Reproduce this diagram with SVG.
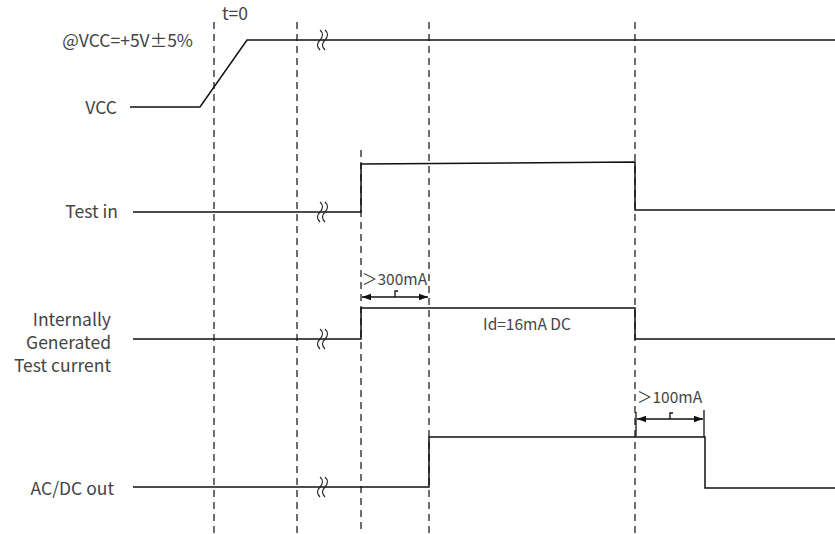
<svg xmlns="http://www.w3.org/2000/svg" width="835" height="534" viewBox="0 0 835 534">
<style>
.t{font-family:"Noto Sans CJK SC","Noto Sans",sans-serif;font-size:17.5px;fill:#444}
.m{font-size:15.5px}
.s{fill:none;stroke:#111;stroke-width:1.5}
.d{fill:none;stroke:#222;stroke-width:1.3;stroke-dasharray:7 5}
.b{fill:none;stroke:#222;stroke-width:1.1}
.a{fill:none;stroke:#111;stroke-width:1.3}
</style>
<defs>
<marker id="ah" viewBox="0 0 10 10" refX="10" refY="5" markerWidth="7" markerHeight="7" orient="auto-start-reverse"><path d="M0,1.5 L10,5 L0,8.5 z" fill="#111"/></marker>
<g id="brk"><path class="b" d="M-3,-10 q5,4.5 0,10 q-5,5 0,10"/><path class="b" d="M2,-10 q5,4.5 0,10 q-5,5 0,10"/></g>
</defs>
<g id="grid">
<line class="d" x1="214" y1="22" x2="214" y2="534"/>
<line class="d" x1="297" y1="22" x2="297" y2="534"/>
<line class="d" x1="361" y1="150" x2="361" y2="534"/>
<line class="d" x1="429" y1="22" x2="429" y2="534"/>
<line class="d" x1="635" y1="22" x2="635" y2="534"/>
</g>
<g id="vcc">
<text class="t" x="193" y="47" text-anchor="end">@VCC=+5V±5%</text>
<text class="t" x="222" y="20">t=0</text>
<text class="t" x="117" y="114" text-anchor="end">VCC</text>
<polyline class="s" points="130,107 200,107 247,40 835,40"/>
<use href="#brk" x="323" y="40"/>
</g>
<g id="testin">
<text class="t" x="118" y="218" text-anchor="end">Test in</text>
<polyline class="s" points="133,212 361,212 361,164 635,162 635,210 835,210"/>
<use href="#brk" x="323" y="212"/>
</g>
<g id="itc">
<text class="t" x="111" y="326" text-anchor="end">Internally</text>
<text class="t" x="111" y="349" text-anchor="end">Generated</text>
<text class="t" x="111" y="372" text-anchor="end">Test current</text>
<polyline class="s" points="133,339 361,339 361,308 635,308 635,339 835,339"/>
<use href="#brk" x="323" y="339"/>
<text class="t m" x="527" y="330" text-anchor="middle">Id=16mA DC</text>
</g>
<g id="acdc">
<text class="t" x="114" y="495" text-anchor="end">AC/DC out</text>
<polyline class="s" points="133,487 429,487 429,437 705,437 705,488 835,488"/>
<use href="#brk" x="323" y="487"/>
</g>
<g id="connectors">
<text class="t m" x="362" y="285">＞300mA</text>
<line class="a" x1="362" y1="297" x2="428" y2="297" marker-start="url(#ah)" marker-end="url(#ah)"/>
<path class="a" d="M395,297 v-6 h3"/>
<text class="t m" x="637" y="403">＞100mA</text>
<line class="a" x1="636" y1="412" x2="636" y2="436"/>
<line class="a" x1="704" y1="410" x2="704" y2="437"/>
<line class="a" x1="637" y1="419" x2="703" y2="419" marker-start="url(#ah)" marker-end="url(#ah)"/>
<path class="a" d="M670,419 v-6 h3"/>
</g>
</svg>
